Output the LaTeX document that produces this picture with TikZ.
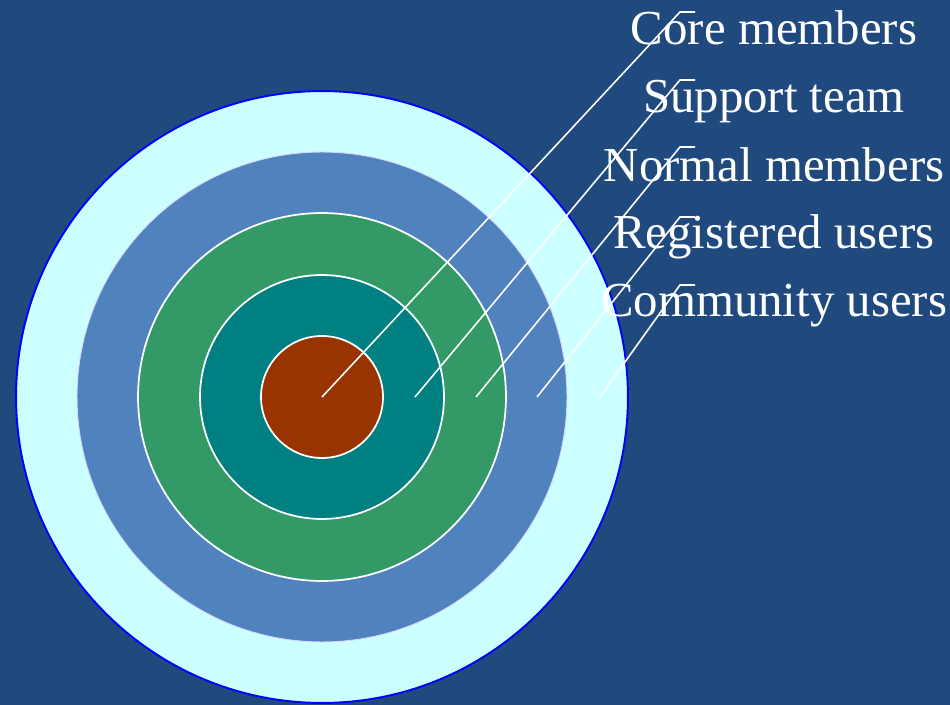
\documentclass[tikz,border=0pt]{standalone}
\usepackage{fontspec}
\setmainfont{Liberation Serif}
\definecolor{bgblue}{RGB}{32,74,126}
\definecolor{ringcyan}{RGB}{204,255,255}
\definecolor{ringblue}{RGB}{80,130,190}
\definecolor{ringgreen}{RGB}{51,153,102}
\definecolor{ringteal}{RGB}{0,128,128}
\definecolor{ringbrown}{RGB}{153,51,0}
\definecolor{paleedge}{RGB}{215,215,255}

\begin{document}
\begin{tikzpicture}[x=0.02cm, y=-0.02cm,
    ring/.style={circle, draw=white, line width=1pt, inner sep=0pt},
    tag/.style={anchor=base, text=white, inner sep=0pt, font=\fontsize{27.8}{32}\selectfont},
    callout/.style={draw=white, line width=0.9pt}
]

% Background
\useasboundingbox (0,0) rectangle (950,705);
\fill[bgblue] (0,0) rectangle (950,705);

% Rings
\node[ring, draw=blue, line width=1.1pt, fill=ringcyan, minimum size=12.24cm] (community) at (322,397) {};
\node[ring, draw=paleedge, line width=0.5pt, fill=ringblue, minimum size=9.8cm] (registered) at (322,397) {};
\node[ring, fill=ringgreen, minimum size=7.36cm] (normal) at (322,397) {};
\node[ring, fill=ringteal, minimum size=4.88cm] (support) at (322,397) {};
\node[ring, fill=ringbrown, minimum size=2.44cm] (core) at (322,397) {};

% Labels
\node[tag] (tcore) at (774,45) {Core members};
\node[tag] (tsupport) at (774,113) {Support team};
\node[tag] (tnormal) at (774,182) {Normal members};
\node[tag] (tregistered) at (774,249) {Registered users};
\node[tag] (tcommunity) at (774,317) {Community users};

% Callouts
\coordinate (p1) at (core.center);
\coordinate (p2) at (415,397);
\coordinate (p3) at (476,397);
\coordinate (p4) at (537,397);
\coordinate (p5) at (600,397);
\foreach \i/\y in {1/12, 2/80, 3/147, 4/217, 5/285} {
    \coordinate (q\i) at (680,\y);
    \draw[callout] (p\i) -- (q\i) -- ++(15,0);
}

\end{tikzpicture}
\end{document}
